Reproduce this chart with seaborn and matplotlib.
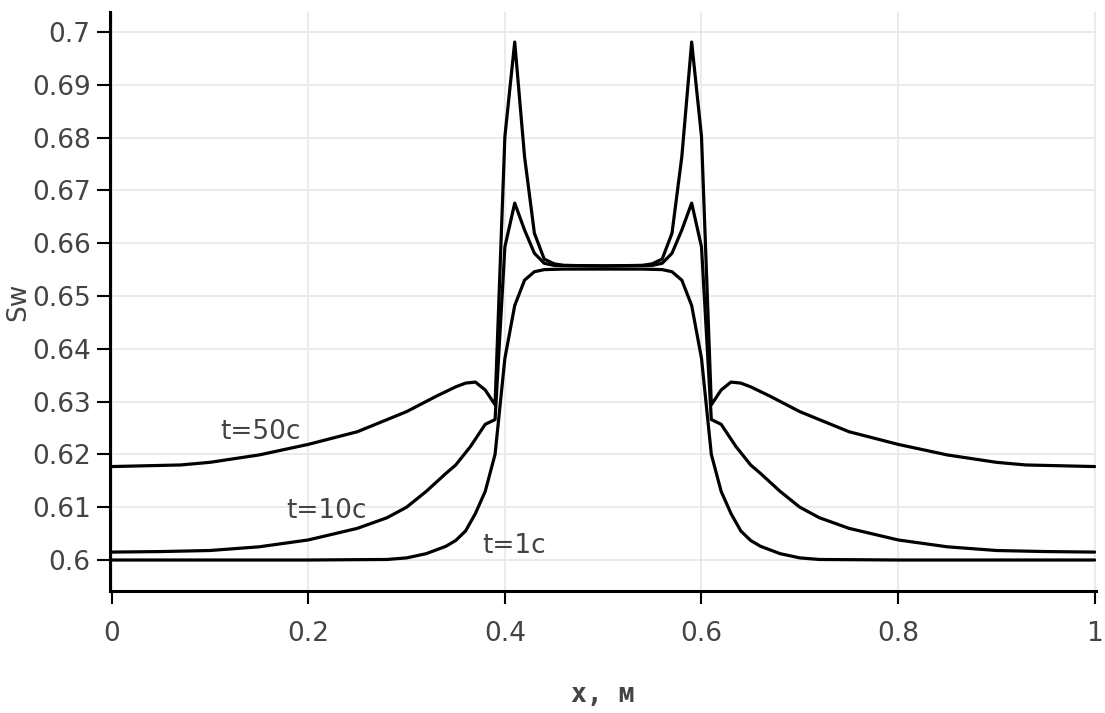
import matplotlib
matplotlib.use("Agg")
import matplotlib.pyplot as plt
import seaborn as sns

# ---------------- data ----------------
T1_X = [0.00, 0.10, 0.20, 0.28, 0.30, 0.32, 0.34, 0.35, 0.36, 0.37,
        0.38, 0.39, 0.40, 0.41, 0.42, 0.43, 0.44, 0.46, 0.50,
        0.54, 0.56, 0.57, 0.58, 0.59, 0.60, 0.61, 0.62, 0.63, 0.64,
        0.65, 0.66, 0.68, 0.70, 0.72, 0.80, 0.90, 1.00]
T1_Y = [0.6000, 0.6000, 0.6000, 0.6001, 0.6004, 0.6012, 0.6026, 0.6037, 0.6055, 0.6088,
        0.6130, 0.6200, 0.6382, 0.6482, 0.6530, 0.6546, 0.6550, 0.6551, 0.6551,
        0.6551, 0.6550, 0.6546, 0.6530, 0.6482, 0.6382, 0.6200, 0.6130, 0.6088, 0.6055,
        0.6037, 0.6026, 0.6012, 0.6004, 0.6001, 0.6000, 0.6000, 0.6000]

T10_X = [0.00, 0.05, 0.10, 0.15, 0.20, 0.25, 0.28, 0.30, 0.32, 0.34,
         0.35, 0.365, 0.38, 0.39, 0.40, 0.41, 0.42, 0.43, 0.44, 0.45,
         0.50,
         0.55, 0.56, 0.57, 0.58, 0.59, 0.60, 0.61, 0.62, 0.635, 0.65,
         0.66, 0.68, 0.70, 0.72, 0.75, 0.80, 0.85, 0.90, 0.95, 1.00]
T10_Y = [0.6015, 0.6016, 0.6018, 0.6025, 0.6038, 0.6060, 0.6080, 0.6100, 0.6130, 0.6164,
         0.6180, 0.6215, 0.6257, 0.6266, 0.6593, 0.6676, 0.6625, 0.6581, 0.6562, 0.6558,
         0.6557,
         0.6558, 0.6562, 0.6581, 0.6625, 0.6676, 0.6593, 0.6266, 0.6257, 0.6215, 0.6180,
         0.6164, 0.6130, 0.6100, 0.6080, 0.6060, 0.6038, 0.6025, 0.6018, 0.6016, 0.6015]

T50_X = [0.00, 0.07, 0.10, 0.15, 0.20, 0.25, 0.30, 0.33, 0.35, 0.36,
         0.37, 0.38, 0.39, 0.40, 0.41, 0.42, 0.43, 0.44, 0.45, 0.46,
         0.50,
         0.54, 0.55, 0.56, 0.57, 0.58, 0.59, 0.60, 0.61, 0.62, 0.63,
         0.64, 0.65, 0.67, 0.70, 0.75, 0.80, 0.85, 0.90, 0.93, 1.00]
T50_Y = [0.6177, 0.6180, 0.6185, 0.6199, 0.6219, 0.6243, 0.6281, 0.6310, 0.6328, 0.6335,
         0.6337, 0.6322, 0.6294, 0.6802, 0.6981, 0.6764, 0.6619, 0.6570, 0.6561, 0.6558,
         0.6557,
         0.6558, 0.6561, 0.6570, 0.6619, 0.6764, 0.6981, 0.6802, 0.6294, 0.6322, 0.6337,
         0.6335, 0.6328, 0.6310, 0.6281, 0.6243, 0.6219, 0.6199, 0.6185, 0.6180, 0.6177]

SERIES = [(T1_X, T1_Y), (T10_X, T10_Y), (T50_X, T50_Y)]

CURVE_LABELS = ["t=50c", "t=10c", "t=1c"]
LABEL_X = [0.110, 0.178, 0.377]
LABEL_Y = [0.6229, 0.6079, 0.6013]

X_TICKS = [0, 0.2, 0.4, 0.6, 0.8, 1]
X_TICK_LABELS = ["0", "0.2", "0.4", "0.6", "0.8", "1"]
Y_TICKS = [0.60, 0.61, 0.62, 0.63, 0.64, 0.65, 0.66, 0.67, 0.68, 0.69, 0.70]
Y_TICK_LABELS = ["0.6", "0.61", "0.62", "0.63", "0.64", "0.65",
                 "0.66", "0.67", "0.68", "0.69", "0.7"]

X_LABEL = "x, м"
Y_LABEL = "Sw"

# ---------------- plotting ----------------
sns.set_theme(style="white")
plt.rcParams["font.family"] = ["DejaVu Sans"]

W, H = 1105, 713
fig = plt.figure(figsize=(W / 100, H / 100), dpi=100)
left_px, right_px, top_px, bot_px = 110, 1095.5, 12, 591
ax = fig.add_axes([left_px / W, 1 - bot_px / H,
                   (right_px - left_px) / W, (bot_px - top_px) / H])

for xs, ys in SERIES:
    sns.lineplot(x=xs, y=ys, ax=ax, color="black", linewidth=2.3,
                 sort=False, estimator=None,
                 solid_joinstyle="round", solid_capstyle="round")

ax.set_xlim(-0.0017, 1.0008)
ax.set_ylim(0.59413, 0.70379)

ax.set_xticks(X_TICKS)
ax.set_xticklabels(X_TICK_LABELS)
ax.set_yticks(Y_TICKS)
ax.set_yticklabels(Y_TICK_LABELS)

ax.tick_params(axis="both", direction="out", length=9.5, width=1.5,
               color="black", labelsize=19, labelcolor="#444444",
               bottom=True, left=True, top=False, right=False)
ax.tick_params(axis="x", pad=12)
ax.tick_params(axis="y", pad=4.5)

ax.grid(True, color="#ebebeb", linewidth=1.4)
ax.set_axisbelow(True)

for side in ["top", "right"]:
    ax.spines[side].set_visible(False)
for side in ["left", "bottom"]:
    ax.spines[side].set_visible(True)
    ax.spines[side].set_color("black")
    ax.spines[side].set_linewidth(2.2)

for txt, lx, ly in zip(CURVE_LABELS, LABEL_X, LABEL_Y):
    ax.text(lx, ly, txt, fontsize=19, color="#444444", ha="left", va="baseline")

ax.set_xlabel(X_LABEL, fontsize=19, color="#444444", fontweight="bold",
              family=["DejaVu Sans Mono", "DejaVu Sans"])
ax.xaxis.set_label_coords(0.5, (bot_px - 695) / (bot_px - top_px))
ax.xaxis.label.set_verticalalignment("center")

ax.set_ylabel(Y_LABEL, fontsize=19, color="#444444")
ax.yaxis.set_label_coords((18 - left_px) / (right_px - left_px), 0.5)
ax.yaxis.label.set_verticalalignment("center")

fig.savefig("out.png", dpi=100)
